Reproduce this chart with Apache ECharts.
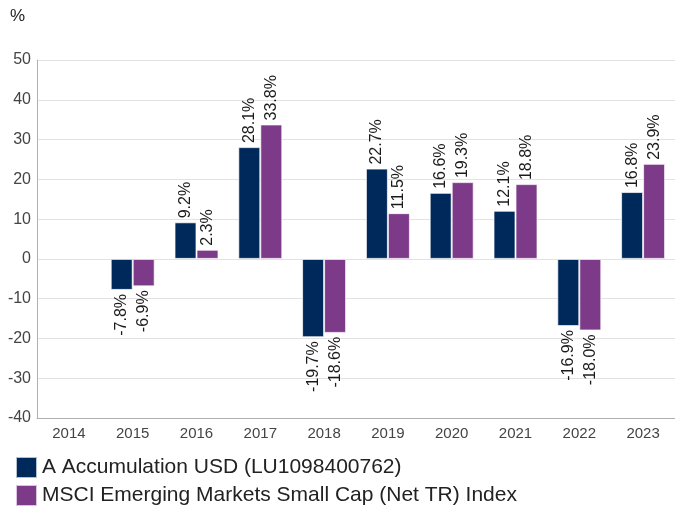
<!DOCTYPE html>
<html>
<head>
<meta charset="utf-8">
<script src="https://cdn.jsdelivr.net/npm/echarts@6/dist/echarts.min.js"></script>
<style>
  html, body { margin: 0; padding: 0; background: #fff; }
  #chart { width: 675px; height: 506px; }
</style>
</head>
<body>
<div id="chart"></div>
<script>
var years = ['2014', '2015', '2016', '2017', '2018', '2019', '2020', '2021', '2022', '2023'];
var fundName = 'A Accumulation USD (LU1098400762)';
var indexName = 'MSCI Emerging Markets Small Cap (Net TR) Index';
var fundValues = [null, -7.8, 9.2, 28.1, -19.7, 22.7, 16.6, 12.1, -16.9, 16.8];
var indexValues = [null, -6.9, 2.3, 33.8, -18.6, 11.5, 19.3, 18.8, -18.0, 23.9];
var yTicks = { min: -40, max: 50, interval: 10 };

var navy = '#00295b';
var purple = '#7d3a88';

function withLabels(values) {
	var out = [];
	for (var i = 0; i < values.length; i++) {
		var v = values[i];
		if (v === null) { out.push(null); continue; }
		out.push({
			value: v,
			label: v >= 0
				? { position: 'top', align: 'left', verticalAlign: 'middle' }
				: { position: 'bottom', align: 'right', verticalAlign: 'middle' }
		});
	}
	return out;
}

var barLabel = {
	show: true,
	rotate: 90,
	distance: 4,
	color: '#1a1a1a',
	fontSize: 16,
	fontFamily: 'Liberation Sans, Arial, sans-serif',
	formatter: function(p) { return p.value.toFixed(1) + '%'; }
};

var chart = echarts.init(document.getElementById('chart'));
chart.setOption({
	animation: false,
	textStyle: { fontFamily: 'Liberation Sans, Arial, sans-serif' },
	graphic: [{
		type: 'text',
		left: 10,
		top: 8,
		style: { text: '%', fontSize: 17, fill: '#222', fontFamily: 'Liberation Sans, Arial, sans-serif' }
	}],
	// plot runs slightly past the right edge, as in the source image
	grid: { left: 37, width: 642, top: 60, bottom: 88, containLabel: false },
	legend: {
		orient: 'vertical',
		left: 15,
		top: 456,
		padding: 0,
		height: 60,
		itemWidth: 21,
		itemHeight: 21,
		itemGap: 5,
		icon: 'rect',
		textStyle: { fontSize: 21, color: '#222', padding: [0, 0, 0, 0] },
		data: [fundName, indexName]
	},
	xAxis: {
		type: 'category',
		data: years,
		axisLine: { onZero: false, lineStyle: { color: '#b0b0b0' } },
		axisTick: { show: false },
		axisLabel: { color: '#444', fontSize: 15, margin: 8 }
	},
	yAxis: {
		type: 'value',
		min: yTicks.min,
		max: yTicks.max,
		interval: yTicks.interval,
		axisLine: { show: true, lineStyle: { color: '#b0b0b0' } },
		axisTick: { show: false },
		splitLine: { lineStyle: { color: '#e2e2e2' } },
		axisLabel: { color: '#444', fontSize: 16, margin: 6 }
	},
	series: [{
		name: fundName,
		type: 'bar',
		barWidth: 22,
		barGap: '0%',
		itemStyle: { color: navy, borderColor: 'rgba(255,255,255,0.7)', borderWidth: 1 },
		label: barLabel,
		data: withLabels(fundValues)
	}, {
		name: indexName,
		type: 'bar',
		barWidth: 22,
		barGap: '0%',
		itemStyle: { color: purple, borderColor: 'rgba(255,255,255,0.7)', borderWidth: 1 },
		label: barLabel,
		data: withLabels(indexValues)
	}]
});
</script>
</body>
</html>
